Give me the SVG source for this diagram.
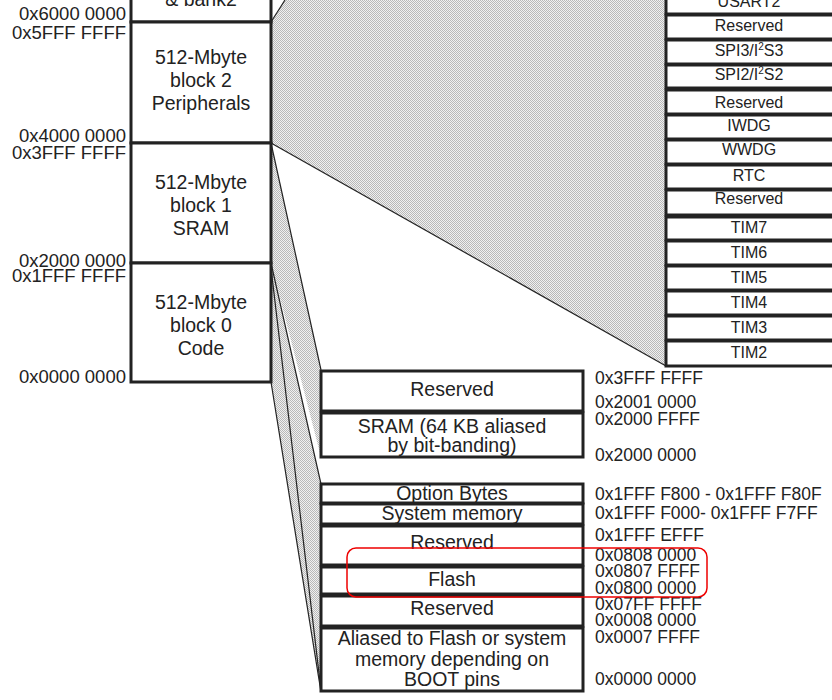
<svg xmlns="http://www.w3.org/2000/svg" width="832" height="700" viewBox="0 0 832 700">
<defs>
<pattern id="dots" width="2" height="2" patternUnits="userSpaceOnUse"><rect width="2" height="2" fill="#f0f0f0"/><rect width="1" height="1" fill="#b8b8b8"/><rect x="1" y="1" width="1" height="1" fill="#b8b8b8"/></pattern>
</defs>
<style>
text{font-family:"Liberation Sans",Arial,sans-serif;fill:#222}
.b{fill:#fff;stroke:#222;stroke-width:3}
.c{text-anchor:middle;font-size:19.5px}
.r{text-anchor:middle;font-size:16px}
.a{font-size:17.5px}
.l{font-size:18.5px;text-anchor:end}
.ln{stroke:#222;stroke-width:1.2;fill:none}
</style>
<rect width="832" height="700" fill="#fff"/>
<g id="connectors">
<polygon points="271,22 285,0 666,0 666,366 271,143" fill="url(#dots)"/>
<line class="ln" x1="271" y1="22" x2="285" y2="0"/>
<line class="ln" x1="271" y1="143" x2="666" y2="366"/>
<polygon points="271,143 321,370 321,457 271,263" fill="url(#dots)"/>
<line class="ln" x1="271" y1="143" x2="321" y2="370"/>
<polygon points="271,263 321,484 321,692 271,382" fill="url(#dots)"/>
<line class="ln" x1="271" y1="263" x2="321" y2="484"/>
<line class="ln" x1="271" y1="268" x2="321" y2="690"/>
<line class="ln" x1="271" y1="382" x2="321" y2="692"/>
</g>
<g id="left-col">
<rect class="b" x="131" y="-10" width="140" height="32"/>
<text class="c" x="201" y="6">&amp; bank2</text>
<rect class="b" x="131" y="22" width="140" height="121"/>
<text class="c" x="201" y="64">512-Mbyte</text><text class="c" x="201" y="87">block 2</text><text class="c" x="201" y="110">Peripherals</text>
<rect class="b" x="131" y="143" width="140" height="120"/>
<text class="c" x="201" y="189">512-Mbyte</text><text class="c" x="201" y="212">block 1</text><text class="c" x="201" y="235">SRAM</text>
<rect class="b" x="131" y="263" width="140" height="119"/>
<text class="c" x="201" y="309">512-Mbyte</text><text class="c" x="201" y="332">block 0</text><text class="c" x="201" y="355">Code</text>
<text class="l" x="126" y="20">0x6000 0000</text>
<text class="l" x="126" y="39">0x5FFF FFFF</text>
<text class="l" x="126" y="142">0x4000 0000</text>
<text class="l" x="126" y="159">0x3FFF FFFF</text>
<text class="l" x="126" y="267">0x2000 0000</text>
<text class="l" x="126" y="282">0x1FFF FFFF</text>
<text class="l" x="126" y="383">0x0000 0000</text>
</g>
<g id="periph-col">
<rect class="b" x="666" y="-10" width="170" height="24"/><text class="r" x="749" y="7">USART2</text>
<rect class="b" x="666" y="15" width="170" height="24"/><text class="r" x="749" y="31">Reserved</text>
<rect class="b" x="666" y="40" width="170" height="24"/><text class="r" x="749" y="56">SPI3/I<tspan font-size="10" dy="-6">2</tspan><tspan dy="6">S3</tspan></text>
<rect class="b" x="666" y="65" width="170" height="23"/><text class="r" x="749" y="80">SPI2/I<tspan font-size="10" dy="-6">2</tspan><tspan dy="6">S2</tspan></text>
<rect class="b" x="666" y="90" width="170" height="24"/><text class="r" x="749" y="108">Reserved</text>
<rect class="b" x="666" y="115" width="170" height="24"/><text class="r" x="749" y="131">IWDG</text>
<rect class="b" x="666" y="140" width="170" height="24"/><text class="r" x="749" y="155">WWDG</text>
<rect class="b" x="666" y="165" width="170" height="24"/><text class="r" x="749" y="181">RTC</text>
<rect class="b" x="666" y="190" width="170" height="25"/><text class="r" x="749" y="204">Reserved</text>
<rect class="b" x="666" y="217" width="170" height="23"/><text class="r" x="749" y="233">TIM7</text>
<rect class="b" x="666" y="241" width="170" height="24"/><text class="r" x="749" y="258">TIM6</text>
<rect class="b" x="666" y="266" width="170" height="24"/><text class="r" x="749" y="283">TIM5</text>
<rect class="b" x="666" y="291" width="170" height="24"/><text class="r" x="749" y="308">TIM4</text>
<rect class="b" x="666" y="316" width="170" height="24"/><text class="r" x="749" y="333">TIM3</text>
<rect class="b" x="666" y="341" width="170" height="25"/><text class="r" x="749" y="358">TIM2</text>
</g>
<g id="sram-box">
<rect class="b" x="321" y="371" width="262" height="40"/><text class="c" x="452" y="396">Reserved</text>
<rect class="b" x="321" y="413" width="262" height="44"/><text class="c" x="452" y="433">SRAM (64 KB aliased</text><text class="c" x="452" y="452">by bit-banding)</text>
<text class="a" x="595" y="384">0x3FFF FFFF</text>
<text class="a" x="595" y="408">0x2001 0000</text>
<text class="a" x="595" y="425">0x2000 FFFF</text>
<text class="a" x="595" y="461">0x2000 0000</text>
</g>
<g id="code-box">
<rect class="b" x="321" y="484" width="262" height="19"/><text class="c" x="452" y="500">Option Bytes</text>
<rect class="b" x="321" y="504" width="262" height="20"/><text class="c" x="452" y="520">System memory</text>
<rect class="b" x="321" y="526" width="262" height="39"/><text class="c" x="452" y="549">Reserved</text>
<rect class="b" x="321" y="567" width="262" height="27"/><text class="c" x="452" y="586">Flash</text>
<rect class="b" x="321" y="596" width="262" height="30"/><text class="c" x="452" y="615">Reserved</text>
<rect class="b" x="321" y="628" width="262" height="63"/><text class="c" x="452" y="645">Aliased to Flash or system</text><text class="c" x="452" y="666">memory depending on</text><text class="c" x="452" y="686">BOOT pins</text>
<text class="a" x="595" y="500">0x1FFF F800 - 0x1FFF F80F</text>
<text class="a" x="595" y="519">0x1FFF F000- 0x1FFF F7FF</text>
<text class="a" x="595" y="541">0x1FFF EFFF</text>
<text class="a" x="595" y="561">0x0808 0000</text>
<text class="a" x="595" y="577">0x0807 FFFF</text>
<text class="a" x="595" y="594">0x0800 0000</text>
<text class="a" x="595" y="610">0x07FF FFFF</text>
<text class="a" x="595" y="626">0x0008 0000</text>
<text class="a" x="595" y="643">0x0007 FFFF</text>
<text class="a" x="595" y="685">0x0000 0000</text>
</g>
<g id="highlight">
<rect x="347" y="548" width="360" height="49" rx="9" fill="none" stroke="#e00" stroke-width="1.5"/>
</g>
</svg>
